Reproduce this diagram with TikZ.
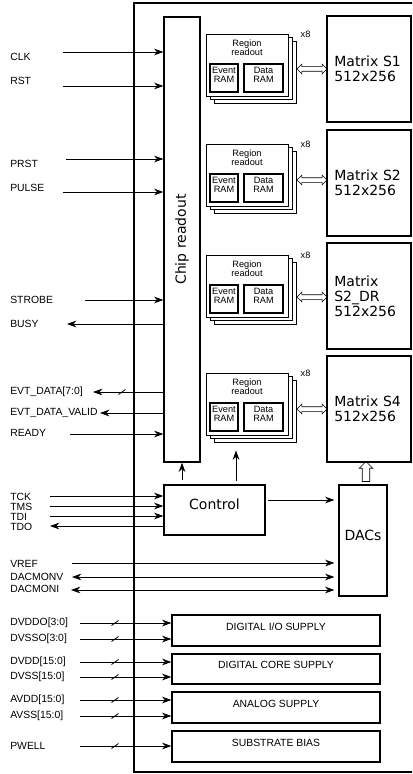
\documentclass[tikz,border=0pt]{standalone}
\usepackage{fontspec}
\setmainfont{Liberation Sans}
\newfontfamily\dejavu{DejaVu Sans}
\usetikzlibrary{arrows.meta,positioning,shapes.arrows,fit,calc}

\tikzset{busmark/.pic={\draw[line width=0.6pt] (-3.5,2.5) -- (3.5,-2.5);}}

\begin{document}
\begin{tikzpicture}[x=0.75pt,y=-0.75pt,
  font=\fontsize{7.8}{9}\selectfont,
  box/.style ={draw,line width=0.9pt,inner sep=0pt,fill=white},
  big/.style ={font=\dejavu\fontsize{10.5}{11.3}\selectfont,align=left},
  mtx/.style ={text width=52pt},
  sig/.style ={anchor=west,inner sep=0pt},
  small/.style={font=\fontsize{6.9}{7}\selectfont,align=center,inner sep=0pt},
  wire/.style={line width=0.6pt},
  darr/.style={double arrow,draw,line width=0.5pt,inner sep=1.5pt,minimum width=0pt,
               minimum height=22.5pt,double arrow head extend=1.9pt},
  uarr/.style={single arrow,draw,line width=0.5pt,inner sep=2.6pt,minimum width=0pt,
               minimum height=15pt,single arrow head extend=2.25pt,shape border rotate=90},
  >={Stealth[length=7pt,width=5pt,inset=2.2pt]}]

\path[use as bounding box] (0,0) rectangle (412,774);
\clip (0,0) rectangle (412,774);

%---------------- chip outline ----------------
\node[draw,line width=1.4pt,inner sep=0pt,fit={(134,3)(420,772)}] (asic) {};

%---------------- chip readout and control ----------------
\node[box,fit={(164,17)(200,462)}] (chip) {};
\node[big,rotate=90] (chiplbl) at (chip.center) {Chip readout};
\node[box,big,fit={(164,485)(265,535)}] (ctrl) {Control};
\node[box,big,fit={(339,485)(387,596)}] (dacs) {DACs};

%---------------- region readouts and matrices ----------------
\foreach \t/\ya/\mt/\mb/\n/\txt in {
  34/69/16/122/1/{Matrix S1\\512x256},
  144/180/130/236/2/{Matrix S2\\512x256},
  255/297/243/349/3/{Matrix\\S2\_DR\\512x256},
  373/409/356/462/4/{Matrix S4\\512x256}} {
  \node[box,line width=0.7pt,fit={(214,\t+7)(296,\t+69)}] (rb\n) {};
  \node[box,line width=0.7pt,fit={(210,\t+3.5)(292,\t+65.5)}] (rm\n) {};
  \node[box,line width=0.7pt,fit={(206,\t)(288,\t+62)}] (rr\n) {};
  \node[small] (rl\n) at ($(rr\n.north)+(0,14.5)$) {Region\\readout};
  \node[box,small,line width=1.2pt,fit={(210,\t+30)(238,\t+58)}] (ev\n) {Event\\RAM};
  \node[box,small,line width=1.2pt,fit={(244,\t+30)(283,\t+58)}] (dr\n) {Data\\RAM};
  \node[small,anchor=west] (x\n) at ($(rb\n.north east)+(4,-6)$) {x8};
  \node[box,fit={(327,\mt)(411,\mb)}] (m\n) {};
  \node[big,mtx] (mt\n) at (m\n.center) {\txt};
  \node[darr] (lnk\n) at (312,\ya) {};
}

%---------------- internal links ----------------
\draw[wire,->,shorten <=3pt] (ctrl.north -| chip.south) -- (chip.south);
\coordinate (c4) at (236,485);
\draw[wire,->,shorten <=3pt,shorten >=6pt] (c4) -- (c4 |- rb4.south);
\draw[wire,->,shorten <=2pt,shorten >=3pt] ($(ctrl.east)+(0,-10)$) coordinate (cd) -- (cd -| dacs.west);
\node[uarr] (dup) at ($(dacs.north)+(3,-11)$) {};

%---------------- chip readout signals ----------------
\foreach \ly/\ty/\lx/\txt [count=\i] in
  {52/57/63/CLK, 86/81/63/RST, 159/164/66/PRST, 192/188/63/PULSE,
   300/300/85/STROBE, 434/433/70/READY} {
  \node[sig] (in\i) at (10,\ty) {\txt};
  \coordinate (ins\i) at (\lx,\ly);
  \draw[wire,->] (ins\i) -- (ins\i -| chip.west);
}
\node[sig] (busy) at (10,324) {BUSY};
\coordinate (busyc) at (67,324);
\draw[wire,->] (busyc -| chip.west) -- (busyc);
\node[sig] (evd) at (10,392) {EVT\_DATA[7:0]};
\coordinate (evdc) at (93,392);
\draw[wire,->] (evdc -| chip.west) -- (evdc);
\pic at (122,392) {busmark};
\node[sig] (evv) at (10,413) {EVT\_DATA\_VALID};
\coordinate (evvc) at (100,413);
\draw[wire,->] (evvc -| chip.west) -- (evvc);

%---------------- JTAG ----------------
\foreach \y/\txt [count=\i] in {496/TCK, 506/TMS, 516/TDI} {
  \node[sig] (jt\i) at (10,\y+1) {\txt};
  \coordinate (jts\i) at (50,\y);
  \draw[wire,->] (jts\i) -- (jts\i -| ctrl.west);
}
\node[sig] (tdo) at (10,527) {TDO};
\coordinate (tdoc) at (50,526);
\draw[wire,->] (tdoc -| ctrl.west) -- (tdoc);

%---------------- DAC pins ----------------
\node[sig] (vref) at (10,564) {VREF};
\coordinate (vrefc) at (72,563);
\draw[wire,->,shorten >=3pt] (vrefc) -- (vrefc -| dacs.west);
\node[sig] (dmv) at (10,577) {DACMONV};
\coordinate (dmvc) at (72,577);
\draw[wire,<->,shorten >=3pt] (dmvc) -- (dmvc -| dacs.west);
\node[sig] (dmi) at (10,589) {DACMONI};
\coordinate (dmic) at (71,590);
\draw[wire,<->,shorten >=3pt] (dmic) -- (dmic -| dacs.west);

%---------------- supplies ----------------
\node[box,fit={(172,615)(380,646)}] (dio)  {DIGITAL I/O SUPPLY};
\node[box,fit={(172,654)(380,684)}] (dcore){DIGITAL CORE SUPPLY};
\node[box,fit={(172,692)(380,723)}] (ana)  {ANALOG SUPPLY};
\node[box,fit={(172,731)(380,762)}] (sub)  {SUBSTRATE BIAS};
\foreach \y/\txt/\b [count=\i] in
  {623/{DVDDO[3:0]}/dio, 639/{DVSSO[3:0]}/dio, 662/{DVDD[15:0]}/dcore,
   677/{DVSS[15:0]}/dcore, 700/{AVDD[15:0]}/ana, 716/{AVSS[15:0]}/ana, 746/PWELL/sub} {
  \node[sig] (p\i) at (10,\y) {\txt};
  \coordinate (ps\i) at (80,\y);
  \draw[wire,->] (ps\i) -- (ps\i -| \b.west);
  \pic at (115,\y) {busmark};
}

\end{tikzpicture}
\end{document}
